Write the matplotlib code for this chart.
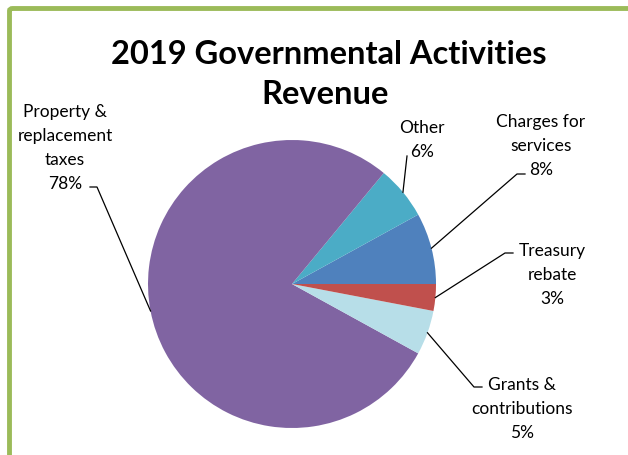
import numpy as np
import matplotlib.pyplot as plt
from matplotlib.patches import FancyBboxPatch

# ---------- Data ----------
labels = ['Charges for\nservices', 'Other', 'Property &\nreplacement\ntaxes',
          'Grants &\ncontributions', 'Treasury\nrebate']
shares = [8, 6, 78, 5, 3]
colors = ['#4F81BD', '#4BACC6', '#8064A2', '#B7DEE8', '#C0504D']

# label layout in figure pixels (from top): text centre x, first-line centre y, stub start/end
text_pos = [(541, 122), (422, 128), (65, 112), (522, 385), (552, 251)]
stubs = [((525, 175), (517, 175)), (None, (407, 157)), ((90, 188), (97, 188)),
         ((482, 388), (474, 388)), ((513, 254), (505, 254))]

W, H = 628, 456
cx, cy, R = 292, 285, 144
line_h = 24

plt.rcParams['font.family'] = ['Lato', 'DejaVu Sans']

fig = plt.figure(figsize=(W/100, H/100), dpi=100)

# green frame
frame = FancyBboxPatch((9.5/W, -0.1), 1.2, 1.1 - 9.5/H,
                       boxstyle='round,pad=0,rounding_size=0.005',
                       transform=fig.transFigure, fill=False,
                       edgecolor='#9BBB59', linewidth=3.5)
fig.patches.append(frame)

ax = fig.add_axes([(cx-R)/W, (H-cy-R)/H, 2*R/W, 2*R/H])
wedges, _ = ax.pie(shares, colors=colors, startangle=0, counterclock=True,
                   wedgeprops=dict(linewidth=0))
ax.set_xlim(-1, 1)
ax.set_ylim(-1, 1)
ax.set_aspect('equal')

def to_data(px, py):
    return (px-cx)/R, (cy-py)/R

for w, lab, s, tp, st in zip(wedges, labels, shares, text_pos, stubs):
    mid = np.deg2rad((w.theta1 + w.theta2)/2)
    edge = (np.cos(mid), np.sin(mid))
    pts = [edge, to_data(*st[1])]
    if st[0] is not None:
        pts.append(to_data(*st[0]))
    xs, ys = zip(*pts)
    ax.plot(xs, ys, color='black', lw=0.9, clip_on=False)
    lines = (lab + '\n%d%%' % s).split('\n')
    for i, ln in enumerate(lines):
        fig.text(tp[0]/W, 1 - (tp[1] + i*line_h)/H, ln, ha='center', va='center',
                 fontsize=12.5, color='#000000')

fig.text(329/W, 1 - 55/H, '2019 Governmental Activities', ha='center',
         va='center', fontsize=23.5, fontweight='bold')
fig.text(325/W, 1 - 95/H, 'Revenue', ha='center',
         va='center', fontsize=23.5, fontweight='bold')

plt.savefig('out.png', dpi=100)
